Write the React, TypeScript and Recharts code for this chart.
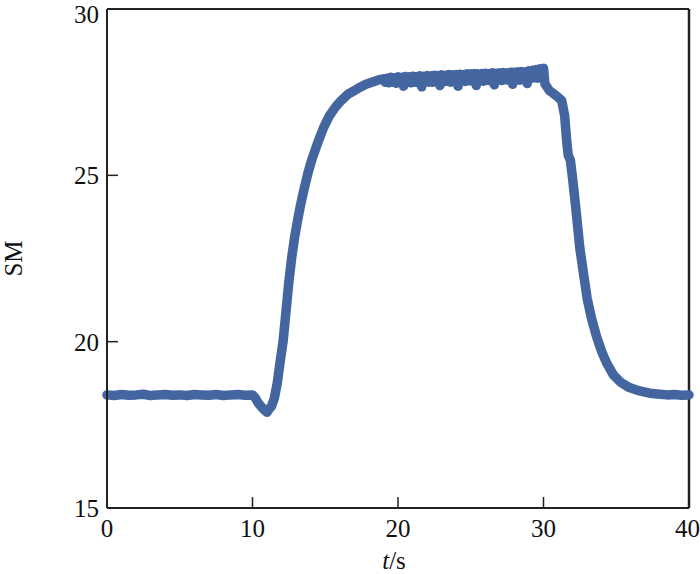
import { LineChart, Line, XAxis, YAxis, ReferenceLine } from 'recharts';

// time (s)
const times = [
  0, 0.5, 1, 1.5, 2, 2.5, 3, 3.5, 4, 4.5, 5, 5.5, 6, 6.5, 7, 7.5, 8, 8.5, 9, 9.5, 10,
  10.2, 10.4, 10.6, 10.8, 11.0, 11.15, 11.3, 11.5,
  11.7, 11.9, 12.1, 12.3, 12.5, 12.7, 12.9, 13.1, 13.3, 13.5, 13.8, 14.1, 14.5, 14.9,
  15.3, 15.7, 16.1, 16.6, 17.0, 17.4, 17.8, 18.2, 18.6,
  19, 19.125, 19.25, 19.375, 19.5, 19.625, 19.75, 19.875,
  20, 20.125, 20.25, 20.375, 20.5, 20.625, 20.75, 20.875,
  21, 21.125, 21.25, 21.375, 21.5, 21.625, 21.75, 21.875,
  22, 22.125, 22.25, 22.375, 22.5, 22.625, 22.75, 22.875,
  23, 23.125, 23.25, 23.375, 23.5, 23.625, 23.75, 23.875,
  24, 24.125, 24.25, 24.375, 24.5, 24.625, 24.75, 24.875,
  25, 25.125, 25.25, 25.375, 25.5, 25.625, 25.75, 25.875,
  26, 26.125, 26.25, 26.375, 26.5, 26.625, 26.75, 26.875,
  27, 27.125, 27.25, 27.375, 27.5, 27.625, 27.75, 27.875,
  28, 28.125, 28.25, 28.375, 28.5, 28.625, 28.75, 28.875,
  29, 29.125, 29.25, 29.375, 29.5, 29.625, 29.75, 29.875,
  30.0,
  30.1, 30.4, 30.7, 31.0, 31.25, 31.45, 31.6, 31.7, 31.85, 32.0, 32.2, 32.5, 32.8,
  33.0, 33.3, 33.65, 34.0, 34.35, 34.8, 35.3, 35.9, 36.6, 37.3, 38, 38.5, 39, 39.5, 40,
];

// SM values
const smValues = [
  18.4, 18.38, 18.41, 18.39, 18.4, 18.42, 18.38, 18.4, 18.41, 18.39, 18.4, 18.38, 18.41, 18.4, 18.39, 18.41, 18.38, 18.4, 18.41, 18.39, 18.4,
  18.3, 18.15, 18.05, 17.95, 17.88, 17.98, 18.05, 18.3,
  18.75, 19.4, 20.0, 20.9, 21.8, 22.55, 23.15, 23.65, 24.1, 24.5, 25.05, 25.5, 26.0, 26.45,
  26.8, 27.05, 27.25, 27.45, 27.55, 27.65, 27.74, 27.8, 27.86,
  27.9, 27.8, 27.92, 27.78, 27.95, 27.8, 27.93, 27.77,
  27.96, 27.79, 27.95, 27.68, 27.97, 27.81, 27.96, 27.78,
  27.98, 27.8, 27.97, 27.79, 27.99, 27.66, 27.98, 27.81,
  28.0, 27.8, 27.99, 27.8, 28.01, 27.82, 28.0, 27.7,
  28.02, 27.81, 28.01, 27.83, 28.03, 27.8, 28.02, 27.82,
  28.03, 27.68, 28.04, 27.84, 28.03, 27.82, 28.05, 27.84,
  28.05, 27.83, 28.06, 27.7, 28.05, 27.85, 28.06, 27.83,
  28.07, 27.86, 28.06, 27.84, 28.08, 27.72, 28.07, 27.86,
  28.08, 27.85, 28.09, 27.87, 28.08, 27.86, 28.1, 27.74,
  28.1, 27.88, 28.11, 27.86, 28.12, 27.9, 28.11, 27.76,
  28.14, 27.91, 28.16, 27.93, 28.18, 27.92, 28.2, 28.05,
  28.22,
  27.75, 27.55, 27.45, 27.35, 27.25, 26.8, 26.0, 25.6, 25.45, 24.9, 24.1, 22.8, 21.9,
  21.3, 20.7, 20.15, 19.7, 19.35, 19.0, 18.78, 18.62, 18.52, 18.45, 18.42, 18.4, 18.41, 18.39, 18.4,
];

const xTicks = [0, 10, 20, 30, 40];
const yTicks = [15, 20, 25, 30];

const data = times.map((t, i) => ({ t, sm: smValues[i] }));

const FONT = '"Liberation Serif", "Times New Roman", serif';
const AXIS = '#222';
const LINE = '#4466a0';

const XTitle = (props: any) => {
  const { viewBox } = props;
  const cx = viewBox.x + viewBox.width / 2;
  return (
    <text x={cx - 4} y={viewBox.y + 61} textAnchor="middle" fontFamily={FONT} fontSize={25} fill="#111">
      <tspan fontStyle="italic">t</tspan>
      <tspan>/s</tspan>
    </text>
  );
};

const YTitle = (props: any) => {
  const { viewBox } = props;
  const cy = viewBox.y + viewBox.height / 2;
  return (
    <text
      x={22}
      y={cy}
      transform={`rotate(-90, 22, ${cy})`}
      textAnchor="middle"
      fontFamily={FONT}
      fontSize={25}
      fill="#111"
    >
      SM
    </text>
  );
};

export default function App() {
  return (
    <div>
      <style>{`body{margin:0;overflow:hidden;background:#fff}`}</style>
      <LineChart width={700} height={574} data={data} margin={{ top: 9, right: 11, left: 0, bottom: 0 }}>
        <XAxis
          dataKey="t"
          type="number"
          domain={[0, 40]}
          ticks={xTicks}
          height={66}
          tickSize={-11}
          tickMargin={22}
          axisLine={{ stroke: AXIS, strokeWidth: 2 }}
          tickLine={{ stroke: AXIS, strokeWidth: 1.5 }}
          tick={{ fill: '#111', fontSize: 25, fontFamily: FONT }}
          label={<XTitle />}
        />
        <YAxis
          type="number"
          domain={[15, 30]}
          ticks={yTicks}
          width={107}
          tickSize={-11}
          tickMargin={19}
          axisLine={{ stroke: AXIS, strokeWidth: 2 }}
          tickLine={{ stroke: AXIS, strokeWidth: 1.5 }}
          tick={{ fill: '#111', fontSize: 25, fontFamily: FONT }}
          label={<YTitle />}
        />
        <ReferenceLine y={30} stroke={AXIS} strokeWidth={2} />
        <ReferenceLine x={40} stroke={AXIS} strokeWidth={2.5} />
        <Line
          type="linear"
          dataKey="sm"
          stroke={LINE}
          strokeWidth={9.5}
          strokeLinejoin="round"
          strokeLinecap="round"
          dot={false}
          isAnimationActive={false}
        />
      </LineChart>
    </div>
  );
}
